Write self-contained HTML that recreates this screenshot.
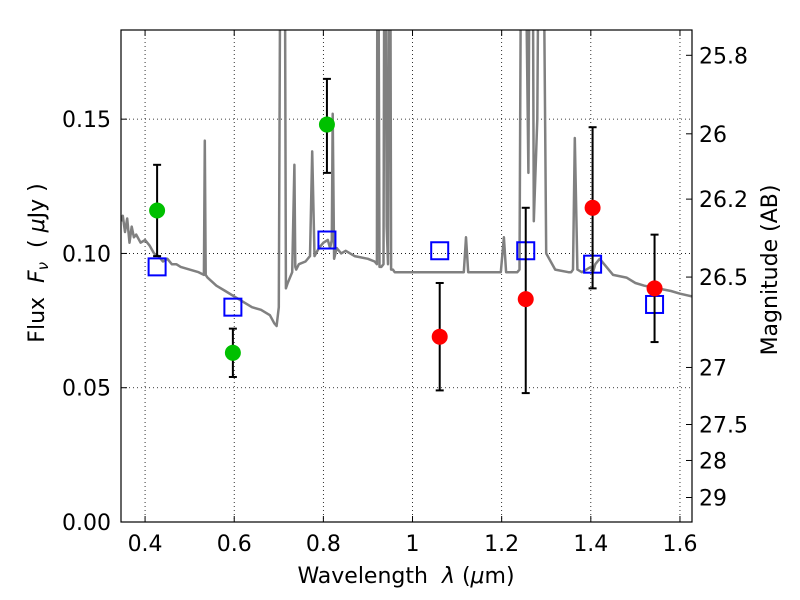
<!DOCTYPE html>
<html><head><meta charset="utf-8"><style>
html,body{margin:0;padding:0;background:#fff;}
svg{display:block;font-family:"DejaVu Sans","Liberation Sans",sans-serif;}
</style></head><body>
<svg id="chart" width="800" height="600" viewBox="0 0 800 600" xmlns="http://www.w3.org/2000/svg"></svg>
<script>
const specWave=[0.346,0.35,0.355,0.36,0.365,0.37,0.375,0.38,0.39,0.4,0.41,0.42,0.43,0.44,0.45,0.46,0.47,0.48,0.5,0.52,0.532,0.534,0.536,0.54,0.56,0.58,0.6,0.62,0.64,0.66,0.68,0.69,0.695,0.7,0.703,0.707,0.711,0.714,0.716,0.72,0.73,0.735,0.737,0.739,0.745,0.76,0.77,0.775,0.78,0.79,0.8,0.81,0.815,0.819,0.821,0.824,0.83,0.84,0.85,0.87,0.9,0.915,0.92,0.922,0.926,0.93,0.935,0.938,0.942,0.945,0.949,0.952,0.956,0.96,0.98,1.0,1.05,1.1,1.115,1.12,1.125,1.13,1.15,1.19,1.198,1.205,1.21,1.22,1.235,1.24,1.243,1.248,1.255,1.26,1.265,1.268,1.272,1.28,1.286,1.29,1.295,1.30,1.32,1.35,1.356,1.36,1.364,1.37,1.38,1.4,1.405,1.41,1.42,1.45,1.48,1.5,1.52,1.55,1.58,1.6,1.627];
const specFlux=[0.112,0.114,0.108,0.113,0.104,0.110,0.106,0.107,0.104,0.105,0.103,0.100,0.099,0.097,0.098,0.096,0.096,0.095,0.094,0.093,0.092,0.142,0.092,0.091,0.088,0.086,0.084,0.082,0.080,0.079,0.077,0.074,0.073,0.080,0.2,0.3,0.3,0.2,0.087,0.089,0.093,0.133,0.095,0.094,0.096,0.097,0.099,0.138,0.099,0.102,0.104,0.105,0.102,0.105,0.152,0.098,0.102,0.100,0.101,0.099,0.098,0.097,0.096,0.3,0.095,0.095,0.096,0.3,0.11,0.096,0.3,0.094,0.094,0.093,0.093,0.093,0.093,0.093,0.093,0.106,0.093,0.093,0.093,0.093,0.093,0.106,0.093,0.093,0.093,0.094,0.2,0.3,0.2,0.13,0.3,0.3,0.112,0.15,0.3,0.3,0.2,0.1,0.094,0.093,0.093,0.094,0.143,0.094,0.093,0.095,0.093,0.096,0.098,0.092,0.091,0.089,0.088,0.087,0.086,0.085,0.084,0.085,0.084];
const photWave=[0.427,0.597,0.808,1.061,1.254,1.404,1.543];
const photFlux=[0.116,0.063,0.148,0.069,0.083,0.117,0.087];
const photLo=[0.099,0.054,0.130,0.049,0.048,0.087,0.067];
const photHi=[0.133,0.072,0.165,0.089,0.117,0.147,0.107];
const photColor=['#00c000','#00c000','#00c000','red','red','red','red'];
const modelFlux=[0.095,0.080,0.105,0.101,0.101,0.096,0.081];
const xTicks=[0.4,0.6,0.8,1.0,1.2,1.4,1.6];
const xTickLabels=['0.4','0.6','0.8','1','1.2','1.4','1.6'];
const yTicks=[0,0.05,0.10,0.15];
const yTickLabels=['0.00','0.05','0.10','0.15'];
const magTicks=[25.8,26,26.2,26.5,27,27.5,28,29];
const magLabels=['25.8','26','26.2','26.5','27','27.5','28','29'];

const L=121,R=692,T=30,B=522;
const X0=0.346,X1=1.627,Y0=0,Y1=0.1832;
const sx=v=>L+(v-X0)/(X1-X0)*(R-L);
const sy=v=>B-(v-Y0)/(Y1-Y0)*(B-T);
const NS='http://www.w3.org/2000/svg';
const svg=document.getElementById('chart');
function mk(tag,attrs,parent){const e=document.createElementNS(NS,tag);for(const k in attrs)e.setAttribute(k,attrs[k]);(parent||svg).appendChild(e);return e;}

const defs=mk('defs',{});
const cp=mk('clipPath',{id:'clip'},defs);
mk('rect',{x:L,y:T,width:R-L,height:B-T},cp);

const grid=mk('g',{});


xTicks.forEach(v=>{mk('line',{x1:sx(v),x2:sx(v),y1:T,y2:B,stroke:'#000','stroke-width':0.8,'stroke-dasharray':'1,3'},grid);});
yTicks.forEach(v=>{mk('line',{x1:L,x2:R,y1:sy(v),y2:sy(v),stroke:'#000','stroke-width':0.8,'stroke-dasharray':'1,3'},grid);});

let d='';
specWave.forEach((w,i)=>{d+=(i?'L':'M')+sx(w).toFixed(1)+','+sy(specFlux[i]).toFixed(1);});
const sp=mk('path',{d:d,fill:'none',stroke:'#808080','stroke-width':2.5,'clip-path':'url(#clip)','stroke-linejoin':'round'});



photWave.forEach((w,i)=>{
  const r=mk('rect',{x:sx(w)-8.5,y:sy(modelFlux[i])-8.5,width:17,height:17,fill:'none',stroke:'#0000ff','stroke-width':2});
  
  
});
photWave.forEach((w,i)=>{
  const g=mk('g',{});
  
  
  const x=sx(w);
  mk('line',{x1:x,x2:x,y1:sy(photLo[i]),y2:sy(photHi[i]),stroke:'#000','stroke-width':2},g);
  mk('line',{x1:x-4,x2:x+4,y1:sy(photLo[i]),y2:sy(photLo[i]),stroke:'#000','stroke-width':2},g);
  mk('line',{x1:x-4,x2:x+4,y1:sy(photHi[i]),y2:sy(photHi[i]),stroke:'#000','stroke-width':2},g);
  mk('circle',{cx:x,cy:sy(photFlux[i]),r:8,fill:photColor[i]},g);
});

const fr=mk('rect',{x:L,y:T,width:R-L,height:B-T,fill:'none',stroke:'#000','stroke-width':1.2});



xTicks.forEach((v,i)=>{
  mk('line',{x1:sx(v),x2:sx(v),y1:B,y2:B-6,stroke:'#000'});
  mk('line',{x1:sx(v),x2:sx(v),y1:T,y2:T+6,stroke:'#000'});
  const t=mk('text',{x:sx(v),y:B+29,'text-anchor':'middle','font-size':22});
  t.textContent=xTickLabels[i];
  
  
});
yTicks.forEach((v,i)=>{
  mk('line',{x1:L,x2:L+6,y1:sy(v),y2:sy(v),stroke:'#000'});
  const t=mk('text',{x:L-10,y:sy(v)+8,'text-anchor':'end','font-size':22});
  t.textContent=yTickLabels[i];
  
  
});
magTicks.forEach((m,i)=>{
  const f=Math.pow(10,(23.9-m)/2.5);
  const y=sy(f);
  mk('line',{x1:R,x2:R-6,y1:y,y2:y,stroke:'#000'});
  const t=mk('text',{x:R+7,y:y+8,'font-size':22});
  t.textContent=magLabels[i];
  
  
});

const xl=mk('text',{x:406,y:583,'text-anchor':'middle','font-size':22});
xl.innerHTML='Wavelength&#160;&#160;<tspan font-style="italic">λ</tspan> (<tspan font-style="italic">μ</tspan>m)';


const yl=mk('text',{x:0,y:0,'text-anchor':'middle','font-size':22,transform:'translate(44,263) rotate(-90)'});
yl.innerHTML='Flux&#160;&#160;<tspan font-style="italic">F</tspan><tspan font-style="italic" font-size="15" dy="4">ν</tspan><tspan dy="-4">&#160;&#160;( </tspan><tspan font-style="italic">μ</tspan>Jy )';


const yr=mk('text',{x:0,y:0,'text-anchor':'middle','font-size':22,transform:'translate(777,270) rotate(-90)'});
yr.textContent='Magnitude (AB)';


</script>
</body></html>
